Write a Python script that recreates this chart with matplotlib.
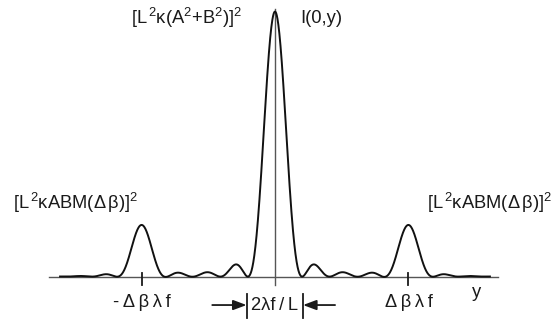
import numpy as np
import matplotlib
matplotlib.use("Agg")
import matplotlib.pyplot as plt

plt.rcParams['font.family'] = ['Liberation Sans', 'DejaVu Sans']
plt.rcParams['mathtext.fontset'] = 'custom'
plt.rcParams['mathtext.rm'] = 'Liberation Sans'
plt.rcParams['mathtext.it'] = 'Liberation Sans'
plt.rcParams['mathtext.bf'] = 'Liberation Sans:bold'

# Peak parameters (y in units of Δβλf, I normalised to central peak)
peak_pos = [-1.0, 0.0, 1.0]
peak_height = [0.196, 1.0, 0.196]
lobe_halfwidth = [0.18, 0.203, 0.18]   # distance from peak to first zero
y_range = (-1.61, 1.61)
tick_pos = [-1.0, 1.0]
tick_labels = ["-\u2009Δ\u2009β\u2009λ\u2009f", "Δ\u2009β\u2009λ\u2009f"]
width_marks = [-0.213, 0.21]

y = np.linspace(y_range[0], y_range[1], 3000)
I = np.zeros_like(y)
for p, h, w in zip(peak_pos, peak_height, lobe_halfwidth):
    I += h * np.sinc((y - p) / w) ** 2

fig = plt.figure(figsize=(5.56, 3.22), dpi=100)
ax = fig.add_axes([0, 0, 1, 1])
ax.set_xlim(-2.060, 2.105)
ax.set_ylim(-0.170, 1.045)
ax.axis('off')

axcol = '#555555'
txt = '#1a1a1a'
# baseline and vertical axis
ax.plot([-1.69, 1.67], [0, 0], color=axcol, lw=1.0)
ax.plot([0, 0], [-0.03, 1.01], color=axcol, lw=1.0)
for t in tick_pos:
    ax.plot([t, t], [-0.03, 0.015], color=txt, lw=1.3)

ax.plot(y, I, color='#111111', lw=1.4)

fs = 13.2
for t, lab in zip(tick_pos, tick_labels):
    ax.text(t, -0.098, lab, ha='center', va='center', fontsize=fs, color=txt)
ax.text(1.51, -0.06, 'y', ha='center', va='center', fontsize=fs, color=txt)

# width marker
for xm in width_marks:
    ax.plot([xm, xm], [-0.066, -0.155], color=txt, lw=1.3)
ax.text(0.0, -0.108, '2λf\u2009/\u2009L', ha='center', va='center', fontsize=fs, color=txt)
ax.annotate('', xy=(width_marks[0], -0.106), xytext=(-0.47, -0.106),
            arrowprops=dict(arrowstyle='-|>,head_length=0.8,head_width=0.3', color=txt, lw=1.3,
                            shrinkA=0, shrinkB=0))
ax.annotate('', xy=(width_marks[1], -0.106), xytext=(0.45, -0.106),
            arrowprops=dict(arrowstyle='-|>,head_length=0.8,head_width=0.3', color=txt, lw=1.3,
                            shrinkA=0, shrinkB=0))

ax.text(-0.247, 0.977, r"[L$^{\,2}$κ(A$^{2}$+B$^{2}$)]$^{2}$", ha='right', va='center', fontsize=fs, color=txt)
ax.text(0.187, 0.977, "I(0,y)", ha='left', va='center', fontsize=fs, color=txt)
side_lab = r"[L$^{\,2}$κABM(Δ$\,$β)]$^{2}$"
ax.text(-1.963, 0.279, side_lab, ha='left', va='center', fontsize=fs, color=txt)
ax.text(2.08, 0.279, side_lab, ha='right', va='center', fontsize=fs, color=txt)

fig.savefig('out.png', dpi=100)
